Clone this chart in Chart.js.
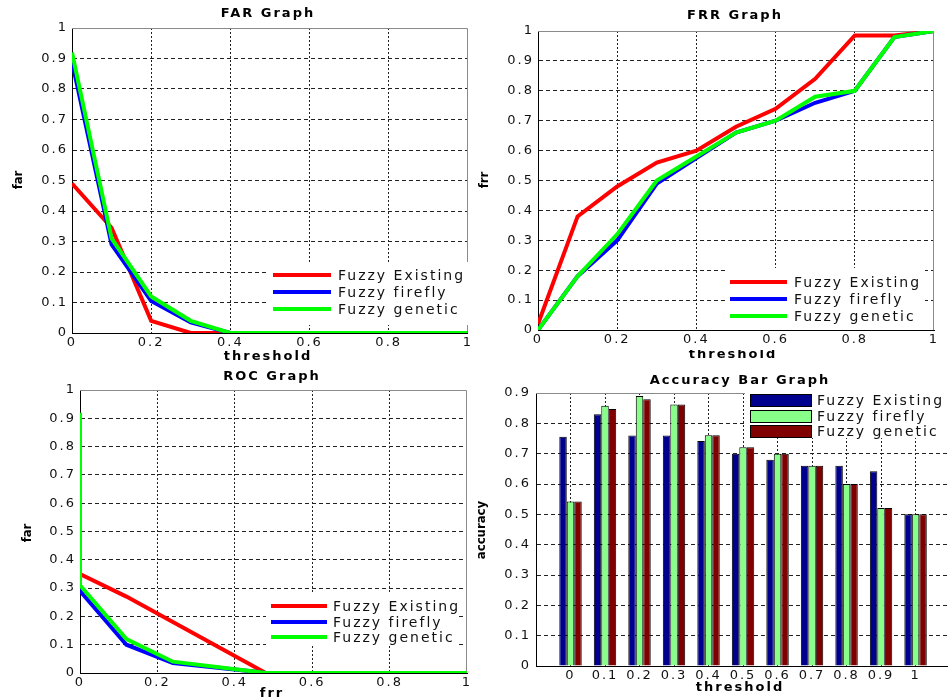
<!DOCTYPE html>
<html>
<head>
<meta charset="utf-8">
<script src="https://cdn.jsdelivr.net/npm/chart.js@4.4.0/dist/chart.umd.min.js"></script>
<style>
  body { margin: 0; background: #fff; width: 948px; height: 700px; position: relative; overflow: hidden; }
  canvas { position: absolute; }
</style>
</head>
<body>
<canvas id="farChart" width="474" height="350" style="left:0;top:0"></canvas>
<canvas id="frrChart" width="474" height="350" style="left:474px;top:0"></canvas>
<canvas id="rocChart" width="474" height="350" style="left:0;top:350px"></canvas>
<canvas id="accChart" width="474" height="350" style="left:474px;top:350px"></canvas>
<script>
const thresholds = [0, 0.1, 0.2, 0.3, 0.4, 0.5, 0.6, 0.7, 0.8, 0.9, 1];
const thresholdLabels = ["0", "0.1", "0.2", "0.3", "0.4", "0.5", "0.6", "0.7", "0.8", "0.9", "1"];
const seriesNames = ["Fuzzy Existing", "Fuzzy firefly", "Fuzzy genetic"];

// FAR vs threshold
const farExisting = [0.49, 0.345, 0.04, 0, 0, 0, 0, 0, 0, 0, 0];
const farFirefly  = [0.89, 0.29, 0.105, 0.035, 0, 0, 0, 0, 0, 0, 0];
const farGenetic  = [0.92, 0.31, 0.12, 0.04, 0, 0, 0, 0, 0, 0, 0];

// FRR vs threshold
const frrExisting = [0.02, 0.38, 0.48, 0.56, 0.60, 0.68, 0.74, 0.84, 0.985, 0.985, 1.0];
const frrFirefly  = [0, 0.18, 0.30, 0.49, 0.575, 0.66, 0.70, 0.76, 0.80, 0.98, 1.0];
const frrGenetic  = [0, 0.18, 0.32, 0.50, 0.58, 0.66, 0.70, 0.78, 0.80, 0.98, 1.0];

// ROC (frr on x, far on y)
const rocFrrExisting = [0, 0.12, 0.24, 0.36, 0.44, 0.48, 1];
const rocFarExisting = [0.35, 0.27, 0.18, 0.09, 0.03, 0, 0];
const rocFrrFirefly  = [0, 0, 0.12, 0.24, 0.45, 0.48, 1];
const rocFarFirefly  = [0.90, 0.29, 0.10, 0.035, 0.005, 0, 0];
const rocFrrGenetic  = [0, 0, 0.12, 0.24, 0.45, 0.48, 1];
const rocFarGenetic  = [0.92, 0.31, 0.12, 0.04, 0.005, 0, 0];

// accuracy per threshold
const accExisting = [0.756, 0.83, 0.76, 0.76, 0.742, 0.70, 0.68, 0.66, 0.66, 0.642, 0.50];
const accFirefly  = [0.542, 0.858, 0.89, 0.862, 0.761, 0.721, 0.70, 0.66, 0.60, 0.521, 0.50];
const accGenetic  = [0.542, 0.847, 0.879, 0.862, 0.761, 0.721, 0.70, 0.66, 0.60, 0.521, 0.50];

const lineColors = ["#ff0000", "#0000ff", "#00ff00"];
const barColors = ["#00008f", "#88ff88", "#800000"];

const pairs = (xs, ys) => xs.map((x, i) => ({ x: x, y: ys[i] }));

// grid line colour, hidden at the top/right edge where the grey box line goes
function gridColor(max) {
  return c => (c.tick && Math.abs(c.tick.value - max) < 1e-6) ? "rgba(0,0,0,0)" : "#222";
}

// grey box, titles, axis labels and the in-plot legend, placed like the matlab figure
function makeLook(cfg) {
  return {
    id: "matlabLook",
    beforeDraw(chart) {
      chart.ctx.letterSpacing = "2px";
    },
    beforeDatasetsDraw(chart) {
      const ctx = chart.ctx;
      const a = chart.chartArea;
      const top = Math.round(a.top) + 0.5;
      const right = Math.round(a.right) - 0.5;
      ctx.save();
      ctx.strokeStyle = "#8a8a8a";
      ctx.lineWidth = 1;
      ctx.beginPath();
      ctx.moveTo(a.left, top);
      ctx.lineTo(right, top);
      if (!cfg.noRight) ctx.lineTo(right, a.bottom);
      ctx.stroke();
      ctx.restore();
    },
    afterDraw(chart) {
      const ctx = chart.ctx;
      ctx.save();
      ctx.letterSpacing = "2px";
      ctx.fillStyle = "#000";
      ctx.textAlign = "center";
      ctx.textBaseline = "middle";
      ctx.font = 'bold 13px "DejaVu Sans"';
      ctx.fillText(cfg.title.text, cfg.title.x, cfg.title.y);
      ctx.fillText(cfg.xTitle.text, cfg.xTitle.x, cfg.xTitle.y);
      // x label of the panel above spills into this canvas
      if (cfg.above) ctx.fillText(cfg.above.text, cfg.above.x, cfg.above.y);

      ctx.save();
      ctx.letterSpacing = "0px";
      ctx.translate(cfg.yTitle.x, cfg.yTitle.y);
      ctx.rotate(-Math.PI / 2);
      ctx.font = 'bold 13px "Liberation Sans Narrow", "DejaVu Sans Condensed", "Liberation Sans"';
      ctx.fillText(cfg.yTitle.text, 0, 0);
      ctx.restore();

      const lg = cfg.legend;
      ctx.fillStyle = "#fff";
      ctx.fillRect(lg.x, lg.y, lg.w, lg.h);
      chart.data.datasets.forEach((ds, i) => {
        const y = lg.rows[i];
        if (lg.kind === "line") {
          ctx.strokeStyle = ds.borderColor;
          ctx.lineWidth = 4;
          ctx.beginPath();
          ctx.moveTo(lg.x1, y);
          ctx.lineTo(lg.x2, y);
          ctx.stroke();
        } else {
          ctx.fillStyle = ds.backgroundColor;
          ctx.fillRect(lg.x1, y - 6, lg.x2 - lg.x1, 12);
          ctx.strokeStyle = "#000";
          ctx.lineWidth = 1;
          ctx.strokeRect(lg.x1 + 0.5, y - 5.5, lg.x2 - lg.x1, 12);
        }
        ctx.fillStyle = "#111";
        ctx.textAlign = "left";
        ctx.font = '14px "DejaVu Sans"';
        ctx.fillText(ds.label, lg.tx, y + 1);
      });
      ctx.restore();
    }
  };
}

function unitAxis(step, dash, pad, fit) {
  return {
    type: "linear",
    min: 0,
    max: 1,
    afterFit: fit,
    ticks: {
      stepSize: step,
      autoSkip: false,
      maxRotation: 0,
      padding: pad,
      color: "#111",
      font: { family: "DejaVu Sans", size: 13 },
      callback: v => String(Math.round(v * 10) / 10)
    },
    grid: { color: gridColor(1), drawTicks: false },
    border: { color: "#000", width: 1, dash: dash }
  };
}

function lineChart(id, seriesData, cfg) {
  return new Chart(document.getElementById(id), {
    type: "line",
    data: {
      datasets: seriesData.map((d, i) => ({
        label: seriesNames[i],
        data: d,
        order: 2 - i,
        borderColor: lineColors[i],
        borderWidth: 4,
        pointRadius: 0,
        tension: 0,
        fill: false
      }))
    },
    options: {
      responsive: false,
      animation: false,
      devicePixelRatio: 1,
      events: [],
      layout: { padding: cfg.padding },
      plugins: { legend: { display: false }, tooltip: { enabled: false } },
      scales: {
        x: unitAxis(0.2, [2, 2], cfg.xPad, s => { s.height = cfg.xHeight; }),
        y: unitAxis(0.1, [4, 3], 4, s => { s.width = 40; })
      }
    },
    plugins: [makeLook(cfg)]
  });
}

lineChart("farChart", [
  pairs(thresholds, farExisting),
  pairs(thresholds, farFirefly),
  pairs(thresholds, farGenetic)
], {
  padding: { left: 32, right: 5, top: 28, bottom: 0 },
  xHeight: 17,
  xPad: 2,
  title: { text: "FAR Graph", x: 268, y: 14 },
  xTitle: { text: "", x: 0, y: 0 },
  yTitle: { text: "far", x: 19, y: 180 },
  legend: { kind: "line", x: 268, y: 262, w: 201, h: 63, x1: 273, x2: 331, tx: 338, rows: [275, 292, 309] }
});

lineChart("frrChart", [
  pairs(thresholds, frrExisting),
  pairs(thresholds, frrFirefly),
  pairs(thresholds, frrGenetic)
], {
  padding: { left: 24, right: 14, top: 31, bottom: 0 },
  xHeight: 20,
  xPad: 2,
  title: { text: "FRR Graph", x: 261, y: 16 },
  xTitle: { text: "", x: 0, y: 0 },
  yTitle: { text: "frr", x: 11, y: 180 },
  legend: { kind: "line", x: 251, y: 268, w: 200, h: 61, x1: 256, x2: 313, tx: 320, rows: [282, 299, 316] }
});

lineChart("rocChart", [
  pairs(rocFrrExisting, rocFarExisting),
  pairs(rocFrrFirefly, rocFarFirefly),
  pairs(rocFrrGenetic, rocFarGenetic)
], {
  padding: { left: 40, right: 7, top: 40, bottom: 7 },
  xHeight: 20,
  xPad: 2,
  above: { text: "threshold", x: 268, y: 7 },
  title: { text: "ROC Graph", x: 272, y: 27 },
  xTitle: { text: "frr", x: 272, y: 344 },
  yTitle: { text: "far", x: 28, y: 183 },
  legend: { kind: "line", x: 266, y: 243, w: 192, h: 53, x1: 271, x2: 327, tx: 333, rows: [256, 272, 287] }
});

// accuracy bars, on a linear x axis so the plot runs from -1 like matlab's bar()
new Chart(document.getElementById("accChart"), {
  type: "bar",
  data: {
    datasets: [accExisting, accFirefly, accGenetic].map((vals, i) => ({
      label: seriesNames[i],
      data: pairs(thresholds.map((t, j) => j), vals),
      backgroundColor: barColors[i],
      borderColor: "#000",
      borderWidth: 1,
      categoryPercentage: 0.65,
      barPercentage: 1
    }))
  },
  options: {
    responsive: false,
    animation: false,
    devicePixelRatio: 1,
    events: [],
    layout: { padding: { left: 22, right: 0, top: 43, bottom: 14 } },
    plugins: { legend: { display: false }, tooltip: { enabled: false } },
    scales: {
      x: {
        type: "linear",
        min: -1,
        max: 10.94,
        offset: false,
        afterBuildTicks: s => { s.ticks = thresholds.map((t, j) => ({ value: j })); },
        afterFit: s => { s.height = 20; },
        ticks: {
          autoSkip: false,
          maxRotation: 0,
          padding: 2,
          color: "#111",
          font: { family: "DejaVu Sans", size: 13 },
          callback: v => thresholdLabels[Math.round(v)] || ""
        },
        grid: { offset: false, color: "#222", drawTicks: false },
        border: { color: "#000", width: 1, dash: [2, 2] }
      },
      y: {
        type: "linear",
        min: 0,
        max: 0.9,
        afterFit: s => { s.width = 40; },
        ticks: {
          stepSize: 0.1,
          padding: 5,
          color: "#111",
          font: { family: "DejaVu Sans", size: 13 },
          callback: v => String(Math.round(v * 10) / 10)
        },
        grid: { color: gridColor(0.9), drawTicks: false },
        border: { color: "#000", width: 1, dash: [4, 3] }
      }
    }
  },
  plugins: [makeLook({
    noRight: true,
    above: { text: "threshold", x: 259, y: 5 },
    title: { text: "Accuracy Bar Graph", x: 266, y: 31 },
    xTitle: { text: "threshold", x: 266, y: 338 },
    yTitle: { text: "accuracy", x: 8, y: 180 },
    legend: { kind: "box", x: 271, y: 43, w: 203, h: 45, x1: 276, x2: 337, tx: 343, rows: [50, 66, 81] }
  })]
});
</script>
</body>
</html>
